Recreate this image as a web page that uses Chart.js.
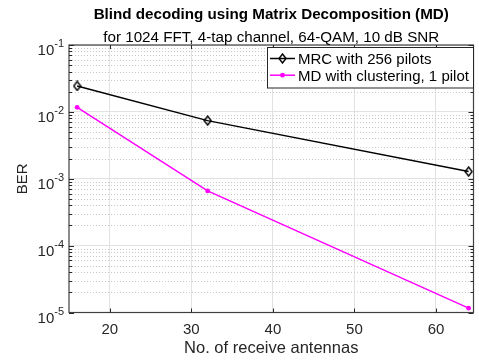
<!DOCTYPE html>
<html>
<head>
<meta charset="utf-8">
<script src="https://cdn.jsdelivr.net/npm/chart.js@4/dist/chart.umd.min.js"></script>
<style>
  html, body { margin: 0; padding: 0; background: #fff; }
  canvas { display: block; }
</style>
</head>
<body>
<canvas id="ber" width="479" height="362"></canvas>
<script>
// Number of receive antennas
const antennas = [16, 32, 64];
// Bit error rate of each receiver
const mrcBER = [0.0244, 0.0074, 0.00128];
const mdBER = [0.0117, 0.000658, 0.0000116];
// Axis ticks
const xTicks = [20, 30, 40, 50, 60];
const yDecades = [1e-5, 1e-4, 1e-3, 1e-2, 1e-1];
// Text
const seriesNames = ['MRC with 256 pilots', 'MD with clustering, 1 pilot'];
const titleText = 'Blind decoding using Matrix Decomposition (MD)';
const subtitleText = 'for 1024 FFT, 4-tap channel, 64-QAM, 10 dB SNR';
const xLabel = 'No. of receive antennas';
const yLabel = 'BER';

const FONT = '"Liberation Sans", Arial, sans-serif';
const AXIS_COLOR = '#262626';

// Hollow diamond marker
function makeDiamond() {
  const c = document.createElement('canvas');
  c.width = 9; c.height = 11;
  const g = c.getContext('2d');
  g.strokeStyle = '#000';
  g.lineWidth = 1.4;
  g.beginPath();
  g.moveTo(4.5, 1.0);
  g.lineTo(8.0, 5.5);
  g.lineTo(4.5, 10.0);
  g.lineTo(1.0, 5.5);
  g.closePath();
  g.stroke();
  return c;
}
const diamond = makeDiamond();

function pts(ys) { return antennas.map((x, i) => ({ x: x, y: ys[i] })); }

// Minor log values between decades (2..9 times each decade)
function minorValues() {
  const out = [];
  for (let d = 0; d < yDecades.length - 1; d++) {
    for (let k = 2; k <= 9; k++) out.push(yDecades[d] * k);
  }
  return out;
}

const decor = {
  id: 'decor',
  beforeDatasetsDraw(chart) {
    const { ctx, chartArea: a, scales: { y } } = chart;
    ctx.save();
    ctx.strokeStyle = '#c8c8c8';
    ctx.lineWidth = 1;
    ctx.setLineDash([1, 2]);
    minorValues().forEach(v => {
      const py = Math.round(y.getPixelForValue(v)) + 0.5;
      ctx.beginPath();
      ctx.moveTo(a.left, py);
      ctx.lineTo(a.right, py);
      ctx.stroke();
    });
    ctx.restore();
  },
  afterDraw(chart) {
    const { ctx, chartArea: a, scales: { x, y } } = chart;
    const cx = (a.left + a.right) / 2;
    ctx.save();

    // axes box
    ctx.strokeStyle = '#404040';
    ctx.lineWidth = 1.2;
    ctx.strokeRect(a.left, a.top, a.right - a.left, a.bottom - a.top);

    // tick marks (inward)
    ctx.lineWidth = 1;
    ctx.strokeStyle = AXIS_COLOR;
    ctx.beginPath();
    xTicks.forEach(v => {
      const px = Math.round(x.getPixelForValue(v)) + 0.5;
      ctx.moveTo(px, a.bottom); ctx.lineTo(px, a.bottom - 4);
      ctx.moveTo(px, a.top); ctx.lineTo(px, a.top + 4);
    });
    yDecades.forEach(v => {
      const py = Math.round(y.getPixelForValue(v)) + 0.5;
      ctx.moveTo(a.left, py); ctx.lineTo(a.left + 5, py);
      ctx.moveTo(a.right, py); ctx.lineTo(a.right - 5, py);
    });
    minorValues().forEach(v => {
      const py = Math.round(y.getPixelForValue(v)) + 0.5;
      ctx.moveTo(a.left, py); ctx.lineTo(a.left + 3, py);
      ctx.moveTo(a.right, py); ctx.lineTo(a.right - 3, py);
    });
    ctx.stroke();

    // x tick labels
    ctx.fillStyle = AXIS_COLOR;
    ctx.font = '15px ' + FONT;
    ctx.textAlign = 'center';
    ctx.textBaseline = 'alphabetic';
    xTicks.forEach(v => {
      ctx.fillText(String(v), x.getPixelForValue(v), a.bottom + 21);
    });

    // y tick labels as powers of ten
    yDecades.forEach(v => {
      const py = y.getPixelForValue(v);
      const exp = String(Math.round(Math.log10(v)));
      ctx.textAlign = 'right';
      ctx.font = '11px ' + FONT;
      const ew = ctx.measureText(exp).width;
      ctx.fillText(exp, a.left - 5, py + 2);
      ctx.font = '15px ' + FONT;
      ctx.fillText('10', a.left - 5 - ew, py + 10);
    });

    // axis titles
    ctx.textAlign = 'center';
    ctx.font = '16.5px ' + FONT;
    ctx.fillText(xLabel, cx, 353);
    ctx.save();
    ctx.translate(23, (a.top + a.bottom) / 2);
    ctx.rotate(-Math.PI / 2);
    ctx.textBaseline = 'middle';
    ctx.font = '15px ' + FONT;
    ctx.fillText(yLabel, 0, 0);
    ctx.restore();

    // chart title
    ctx.fillStyle = '#000';
    ctx.font = 'bold 15.2px ' + FONT;
    ctx.fillText(titleText, cx, 19);
    ctx.font = '15.2px ' + FONT;
    ctx.fillText(subtitleText, cx, 42);

    // legend
    const lx = 267.5, ly = 47.5, lw = a.right - 267.5, lh = 40.5;
    ctx.fillStyle = '#fff';
    ctx.fillRect(lx, ly, lw, lh);
    ctx.strokeStyle = AXIS_COLOR;
    ctx.lineWidth = 1;
    ctx.strokeRect(lx, ly, lw, lh);
    chart.data.datasets.forEach((ds, i) => {
      const ry = 58.5 + i * 16.7;
      ctx.strokeStyle = ds.borderColor;
      ctx.lineWidth = ds.borderWidth;
      ctx.beginPath();
      ctx.moveTo(270, ry); ctx.lineTo(295, ry);
      ctx.stroke();
      if (ds.pointStyle === diamond) {
        ctx.drawImage(diamond, 282.5 - diamond.width / 2, ry - diamond.height / 2);
      } else {
        ctx.fillStyle = ds.pointBackgroundColor;
        ctx.beginPath();
        ctx.arc(282.5, ry, ds.pointRadius, 0, Math.PI * 2);
        ctx.fill();
      }
      ctx.fillStyle = '#000';
      ctx.font = '15px ' + FONT;
      ctx.textAlign = 'left';
      ctx.textBaseline = 'alphabetic';
      ctx.fillText(ds.label, 298, ry + 5.5);
    });
    ctx.restore();
  }
};

new Chart(document.getElementById('ber'), {
  type: 'line',
  data: {
    datasets: [
      {
        label: seriesNames[0],
        data: pts(mrcBER),
        borderColor: '#000000',
        borderWidth: 1.5,
        pointStyle: diamond,
        pointRadius: 4,
        clip: false
      },
      {
        label: seriesNames[1],
        data: pts(mdBER),
        borderColor: '#ff00ff',
        borderWidth: 1.5,
        pointStyle: 'circle',
        pointRadius: 2.4,
        pointBorderWidth: 0,
        pointBackgroundColor: '#ff00ff',
        clip: false
      }
    ]
  },
  options: {
    responsive: false,
    animation: false,
    devicePixelRatio: 1,
    layout: { padding: { top: 45, right: 2, left: 0, bottom: 0 } },
    plugins: { legend: { display: false }, title: { display: false }, tooltip: { enabled: false } },
    elements: { line: { tension: 0 } },
    scales: {
      x: {
        type: 'linear',
        min: 15,
        max: 64.6,
        afterBuildTicks: s => { s.ticks = xTicks.map(v => ({ value: v })); },
        afterFit: s => { s.height = 49.5; },
        ticks: { display: false },
        grid: { color: '#e2e2e2', lineWidth: 1, drawTicks: false },
        border: { display: false }
      },
      y: {
        type: 'logarithmic',
        min: 1e-5,
        max: 1e-1,
        afterBuildTicks: s => { s.ticks = yDecades.map(v => ({ value: v })); },
        afterFit: s => { s.width = 69; },
        ticks: { display: false },
        grid: { color: '#e2e2e2', lineWidth: 1, drawTicks: false },
        border: { display: false }
      }
    }
  },
  plugins: [decor]
});
</script>
</body>
</html>
